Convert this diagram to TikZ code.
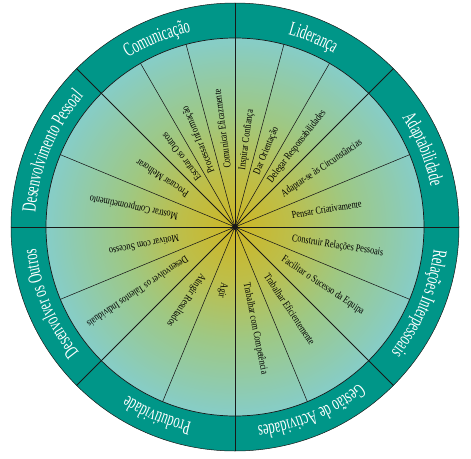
\documentclass[tikz,border=0pt]{standalone}
\usepackage{fontspec}
\setmainfont{Liberation Serif}
\newfontfamily\itemfont{Liberation Serif}[FakeStretch=0.78]
\newfontfamily\ringfont{Liberation Serif}[FakeStretch=0.62]
\usepackage{xcolor}
\usetikzlibrary{decorations.text}

\definecolor{ringteal}{RGB}{0,150,136}
\definecolor{lineblack}{RGB}{25,25,25}
\definecolor{wheelA}{RGB}{205,182,36}
\definecolor{wheelB}{RGB}{190,190,72}
\definecolor{wheelC}{RGB}{158,200,132}
\definecolor{wheelD}{RGB}{134,205,200}
\pgfdeclareradialshading{wheelfill}{\pgfpointorigin}{color(0bp)=(wheelA); color(7bp)=(wheelB); color(15bp)=(wheelC); color(25bp)=(wheelD); color(50bp)=(wheelD)}

\newcommand\ringstyle{\ringfont\fontsize{20}{21}\selectfont\color{white}}

\begin{document}
\begin{tikzpicture}[x=1pt,y=1pt,
    item/.style={anchor=west,inner sep=0pt,text=black,
      font=\itemfont\fontsize{10.5}{12}\selectfont},
    mainline/.style={line width=0.9pt,draw=lineblack},
    subline/.style={line width=0.55pt,draw=lineblack},
    ringtext/.style={decorate,decoration={text along path,text align=center,#1}}]
  \useasboundingbox (-235pt,-231pt) rectangle (236pt,227pt);
  \coordinate (hub) at (0,0);

  % outer ring and inner disc
  \fill[ringteal] (hub) circle (224pt);
  \draw[lineblack,line width=0.5pt] (hub) circle (224pt);
  \shade[shading=wheelfill] (hub) circle (189pt);
  \draw[lineblack,line width=0.7pt] (hub) circle (189pt);

  % sector lines
  \foreach \a in {0,45,...,315}
    \draw[mainline] (hub) -- (\a:224pt);
  \foreach \a in {105,120,75,60,22.5,-22.5,-67.5,-112.5,-157.5,157.5}
    \draw[subline] (hub) -- (\a:189pt);

  % ring labels
  \path[ringtext={text={|\ringstyle|Comunicação}}]
    (135:200pt) arc[start angle=135,end angle=90,radius=200pt];
  \path[ringtext={text={|\ringstyle|Liderança}}]
    (90:200pt) arc[start angle=90,end angle=45,radius=200pt];
  \path[ringtext={text={|\ringstyle|Adaptabilidade}}]
    (45:200pt) arc[start angle=45,end angle=0,radius=200pt];
  \path[ringtext={text={|\ringstyle|Relações Interpessoais}}]
    (0:200pt) arc[start angle=0,end angle=-45,radius=200pt];
  \path[ringtext={text={|\ringstyle|Gestão de Actividades}}]
    (-45:200pt) arc[start angle=-45,end angle=-90,radius=200pt];
  \path[ringtext={text={|\ringstyle|Produtividade}}]
    (-90:200pt) arc[start angle=-90,end angle=-135,radius=200pt];
  \path[ringtext={text={|\ringstyle|Desenvolver os Outros}}]
    (-135:200pt) arc[start angle=-135,end angle=-180,radius=200pt];
  \path[ringtext={text={|\ringstyle|Desenvolvimento Pessoal}}]
    (180:200pt) arc[start angle=180,end angle=135,radius=200pt];

  % competences
  \node[item,rotate=82.5] (inspirar) at (82.5:57pt) {Inspirar Confiança};
  \node[item,rotate=67.5] (orientar) at (67.5:57pt) {Dar Orientação};
  \node[item,rotate=52.5] (delegar) at (52.5:57pt) {Delegar Responsabilidades};
  \node[item,rotate=34] (adaptar) at (34:57pt) {Adaptar-se às Circunstâncias};
  \node[item,rotate=9] (pensar) at (12:58pt) {Pensar Criativamente};
  \node[item,rotate=-9] (construir) at (-11.5:58pt) {Construir Relações Pessoais};
  \node[item,rotate=-33.75] (facilitar) at (-33.75:57pt) {Facilitar o Sucesso da Equipa};
  \node[item,rotate=-56.25] (eficiente) at (-56.25:57pt) {Trabalhar Eficientemente};
  \node[item,rotate=-78.75] (competente) at (-78.75:57pt) {Trabalhar com Competência};
  \node[item,rotate=-101.25] (agir) at (-101.25:57pt) {Agir};
  \node[item,rotate=-123.75] (atingir) at (-123.75:57pt) {Atingir Resultados};
  \node[item,rotate=-146.25] (talentos) at (-146.25:57pt) {Desenvolver os Talentos Individuais};
  \node[item,rotate=-168.75] (motivar) at (-168.75:57pt) {Motivar com Sucesso};
  \node[item,rotate=168.75] (mostrar) at (168.75:58pt) {Mostrar Comprometimento};
  \node[item,rotate=146.25] (melhorar) at (146.25:57pt) {Procurar Melhorar};
  \node[item,rotate=127.5] (escutar) at (127.5:59pt) {Escutar os Outros};
  \node[item,rotate=112.5] (processar) at (112.5:59pt) {Processar Informação};
  \node[item,rotate=97.5] (comunicar) at (97.5:59pt) {Comunicar Eficazmente};

  \fill[lineblack] (hub) circle (3pt);
\end{tikzpicture}
\end{document}
